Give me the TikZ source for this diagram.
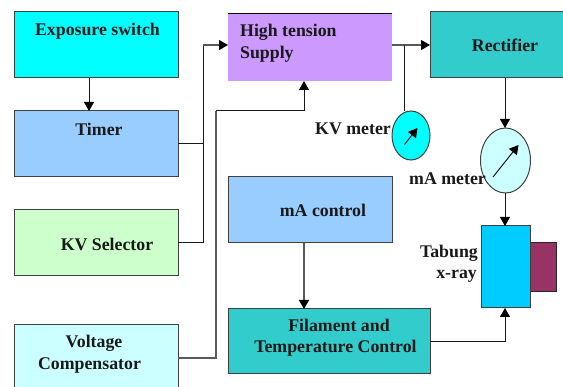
\documentclass[tikz,border=0pt]{standalone}
\usepackage{fontspec}
\setmainfont{Liberation Serif}
\usetikzlibrary{arrows.meta,shapes.geometric}
\tikzset{
  box/.style={draw=black!75,line width=1pt,inner sep=0pt,outer sep=0pt},
  wide/.style={box,minimum width=164pt,minimum height=66pt},
  meter/.style={box,ellipse},
  lbl/.style={inner sep=0pt,font=\fontsize{17.8}{22}\bfseries\selectfont,text=black!90},
  wire/.style={line width=1pt,black!90},
  graywire/.style={line width=1.3pt,black!65},
  tip/.style={-{Triangle[length=9pt,width=10pt,color=black]}},
}
\definecolor{cA}{HTML}{00FFFF}\definecolor{cB}{HTML}{99CCFF}
\definecolor{cC}{HTML}{CCFFCC}\definecolor{cD}{HTML}{CCFFFF}
\definecolor{cE}{HTML}{CC99FF}\definecolor{cF}{HTML}{33CCCC}
\definecolor{cG}{HTML}{00CCFF}\definecolor{cH}{HTML}{993366}
\begin{document}
\begin{tikzpicture}[x=1pt,y=-1pt]
\useasboundingbox (0,0) rectangle (563,387);
\clip (0,0) rectangle (563,387);
% boxes
\node[wide,fill=cA] (exposure) at (96,45) {};
\node[wide,fill=cB] (timer) at (96,144) {};
\node[wide,fill=cC] (kvsel) at (96,242.5) {};
\node[wide,fill=cD] (comp) at (96,358) {};
\node[inner sep=0pt,outer sep=0pt,fill=cE,minimum width=164pt,minimum height=68pt] (ht) at (310,47) {};
\draw[line width=0.8pt,black] (ht.north west) -- (ht.north east);
\node[wide,fill=cB] (mactrl) at (310,210) {};
\node[box,fill=cF,minimum width=202pt,minimum height=65pt] (fil) at (329,341.5) {};
\node[box,fill=cF,minimum width=140pt,minimum height=66pt,anchor=west] (rect) at (430,45) {};
\node[box,fill=cH,draw=black!85,minimum width=26pt,minimum height=49pt] (anode) at (543,267.5) {};
\node[box,fill=cG,minimum width=49pt,minimum height=82pt] (tube) at (505.5,267) {};
% meters
\node[meter,fill=cA,minimum width=38pt,minimum height=49pt] (kvm) at (411,135.5) {};
\node[meter,fill=cD,minimum width=50pt,minimum height=65pt] (mam) at (505.5,160.5) {};
\coordinate (n1) at (404.5,144.5);
\coordinate (n2) at (417.5,128);
\coordinate (n3) at (493,177);
\coordinate (n4) at (518.5,145);
\draw[wire,tip] (n1) -- (n2);
\draw[wire,tip] (n3) -- (n4);
% connector helpers
\coordinate (kvtop) at (404,111.5);
\coordinate (matop) at (505,128);
\coordinate (mabot) at (505,193);
\coordinate (htin) at (228,45);
\coordinate (htout) at (392,45);
\coordinate (kvj) at (404,45);
\coordinate (busa) at (203,45);
\coordinate (busb) at (216,111);
\coordinate (htbot) at (304,81);
\coordinate (maout) at (304,243);
\coordinate (filin) at (304,309);
\coordinate (rectout) at (505,78);
\coordinate (tubetop) at (505,226);
\coordinate (tubebot) at (505,308);
\coordinate (tin) at (89,111);
\coordinate (exout) at (89,78);
% connectors
\draw[wire,tip] (exout) -- (tin);
\draw[wire] (timer.east) -| (busa);
\draw[wire] (kvsel.east) -| (busa);
\draw[graywire,tip] (busa) -- (htin);
\draw[graywire] (comp.east) -| (busb);
\draw[wire,tip] (busb) -| (htbot);
\draw[graywire,tip] (htout) -- (rect.west);
\draw[wire] (kvj) -- (kvtop);
\draw[wire,tip] (rectout) -- (matop);
\draw[wire,tip] (mabot) -- (tubetop);
\draw[graywire,tip] (maout) -- (filin);
\draw[wire,tip] (fil.east) -| (tubebot);
% labels
\node[lbl] (t1) at (97.5,31) {Exposure switch};
\node[lbl] (t2) at (99,129) {Timer};
\node[lbl] (t3) at (107,244) {KV Selector};
\node[lbl] (t4) at (94,343.5) {Voltage};
\node[lbl] (t5) at (89.5,366) {Compensator};
\node[lbl,anchor=west] (t6) at (240,32) {High tension};
\node[lbl,anchor=west] (t7) at (240,54) {Supply};
\node[lbl] (t8) at (505,45) {Rectifier};
\node[lbl,anchor=east] (t9) at (391,129) {KV meter};
\node[lbl,anchor=east] (t10) at (486,179) {mA meter};
\node[lbl] (t11) at (323,210) {mA control};
\node[lbl] (t12) at (339,325.5) {Filament and};
\node[lbl] (t13) at (335.5,348) {Temperature Control};
\node[lbl,anchor=east] (t14) at (478,253) {Tabung};
\node[lbl,anchor=east] (t15) at (477,276) {x-ray};
\end{tikzpicture}
\end{document}
